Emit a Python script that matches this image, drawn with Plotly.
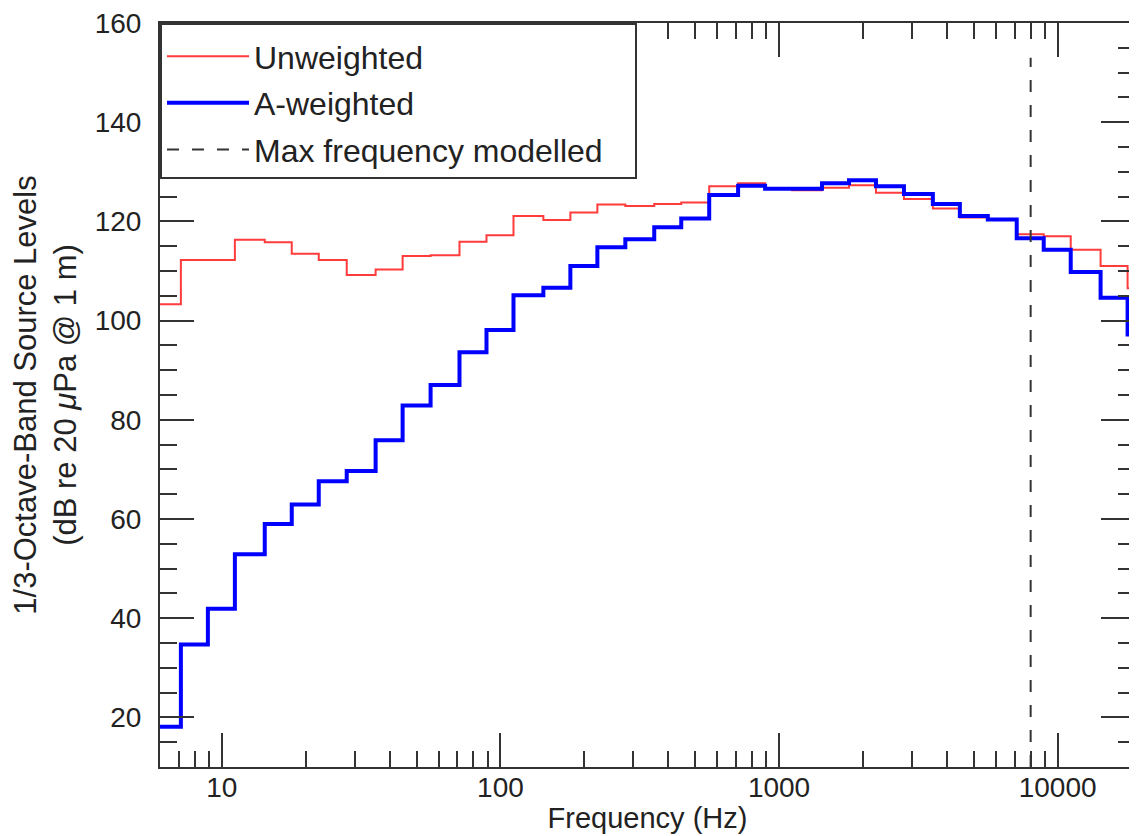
import math
import plotly.graph_objects as go

# 1/3-octave band centre frequencies (Hz)
band_centres = [6.3, 8, 10, 12.5, 16, 20, 25, 31.5, 40, 50, 63, 80, 100, 125, 160,
                200, 250, 315, 400, 500, 630, 800, 1000, 1250, 1600, 2000, 2500,
                3150, 4000, 5000, 6300, 8000, 10000, 12500, 16000, 20000]

# Unweighted levels (dB re 20 uPa @ 1 m)
unweighted = [103.3, 112.2, 112.2, 116.3, 115.8, 113.5, 112.2, 109.2, 110.3, 113.0,
              113.2, 115.9, 117.2, 121.1, 120.3, 121.8, 123.4, 123.1, 123.5, 123.8,
              127.1, 127.7, 126.6, 126.3, 126.8, 127.3, 125.8, 124.5, 122.6, 120.8,
              120.3, 117.4, 117.0, 114.3, 111.0, 106.5]

# A-weighted levels
a_weighted = [18.1, 34.7, 41.9, 52.9, 59.0, 62.9, 67.6, 69.7, 75.9, 82.9,
              87.0, 93.6, 98.1, 105.1, 106.6, 111.0, 114.8, 116.4, 118.8, 120.6,
              125.3, 127.2, 126.6, 126.6, 127.7, 128.3, 127.1, 125.5, 123.5, 121.1,
              120.4, 116.6, 114.3, 109.8, 104.6, 97.2]

max_freq_modelled = 8000
y_range = [10, 160]
x_range_hz = [6, 18950]

# Band edges (third-octave, base-10): lower edge of each band, plus the top edge
edges = [fc * 10 ** (-0.05) for fc in band_centres] + [band_centres[-1] * 10 ** 0.05]

def stairs(vals):
    return vals + [vals[-1]]

FONT = "Liberation Sans, Arial, Helvetica, sans-serif"
AXC = "#333333"
PAD = "\u00a0" * 3

fig = go.Figure()
fig.add_trace(go.Scatter(
    x=edges, y=stairs(unweighted), mode="lines", line_shape="hv",
    line=dict(color="#ff3b3b", width=2), name="Unweighted", legendgroup="a"))
fig.add_trace(go.Scatter(
    x=edges, y=stairs(a_weighted), mode="lines", line_shape="hv",
    line=dict(color="#0000ff", width=4), name="A-weighted", legendgroup="b"))
fig.add_trace(go.Scatter(
    x=[max_freq_modelled, max_freq_modelled], y=[y_range[0], 153], mode="lines",
    line=dict(color="#333333", width=2, dash="12px,13px"),
    name="Max frequency modelled" + PAD, legendgroup="c"))

fig.update_layout(
    width=1129, height=828,
    margin=dict(l=152, r=0, t=10, b=69),
    paper_bgcolor="white", plot_bgcolor="white",
    font=dict(family=FONT, size=28, color="#222222"),
    showlegend=True,
    legend=dict(x=0, y=1, xanchor="left", yanchor="top",
                bgcolor="white", bordercolor="#333333", borderwidth=2,
                font=dict(size=32, color="#222222"),
                title=dict(text="\u00a0", font=dict(size=3)),
                itemwidth=82, traceorder="grouped", tracegroupgap=2),
    xaxis=dict(type="log", range=[math.log10(x_range_hz[0]), math.log10(x_range_hz[1])],
               dtick=1, tickformat="d", showgrid=False, zeroline=False,
               showline=True, linecolor=AXC, linewidth=2, mirror="ticks",
               ticks="inside", ticklen=34, tickwidth=2, tickcolor=AXC,
               ticklabelstandoff=-6, ticklabeloverflow="allow",
               minor=dict(dtick="D1", ticks="inside", ticklen=16, tickwidth=2,
                          tickcolor=AXC, showgrid=False),
               title=dict(text="Frequency (Hz)", font=dict(size=29), standoff=6),
               tickfont=dict(size=28)),
    yaxis=dict(range=y_range, tick0=0, dtick=20, showgrid=False, zeroline=False,
               showline=True, linecolor=AXC, linewidth=2, mirror="ticks",
               ticks="inside", ticklen=34, tickwidth=2, tickcolor=AXC,
               ticklabelstandoff=11, ticklabeloverflow="allow",
               minor=dict(dtick=5, ticks="inside", ticklen=17, tickwidth=2,
                          tickcolor=AXC, showgrid=False),
               title=dict(text="1/3-Octave-Band Source Levels<br>(dB re 20 <i>μ</i>Pa @ 1 m)",
                          font=dict(size=31), standoff=14),
               tickfont=dict(size=28)),
)

fig.write_html("out.html")
